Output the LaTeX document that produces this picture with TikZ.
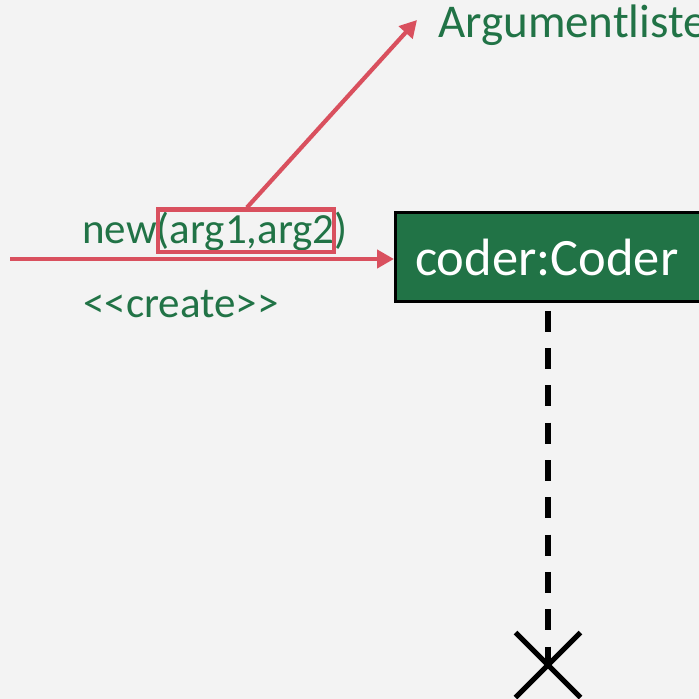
\documentclass[tikz,border=0pt]{standalone}
\usepackage{fontspec}
\setmainfont{Carlito}
\usetikzlibrary{arrows.meta,shapes.misc}
\definecolor{bgc}{HTML}{F3F3F3}
\definecolor{umlgreen}{HTML}{217346}
\definecolor{hlred}{HTML}{D9505E}
\tikzset{
  lbl/.style={anchor=base west, inner sep=0pt, text=umlgreen, font=\fontsize{43}{50}\selectfont},
  redline/.style={draw=hlred, line width=4.2pt},
  redtip/.style={-{Triangle[length=17pt,width=18pt]}},
  objbox/.style={rectangle, draw=black, line width=2.5pt, fill=umlgreen,
    minimum width=340pt, minimum height=89pt, anchor=north west, inner sep=0pt},
  lifeline/.style={draw=black, line width=5.3pt, dash pattern=on 21pt off 16.3pt, dash phase=29pt},
}
\begin{document}
\begin{tikzpicture}[x=1pt,y=-1pt]
  \fill[bgc] (0,0) rectangle (699,699);
  \useasboundingbox (0,0) rectangle (699,699);
  \clip (0,0) rectangle (699,699);

  % object box of the created instance
  \node[objbox] (obj) at (394,211) {};
  \node[anchor=base west, inner sep=0pt, text=white, font=\fontsize{52.5}{60}\selectfont] (objname) at (415,275) {coder:Coder};

  % message labels
  \node[lbl] (msg) at (82,243) {new(arg1,arg2)};
  \node[lbl] (stereo) at (83,317) {<{}<create>{}>};
  \node[lbl, font=\fontsize{47}{54}\selectfont] (note) at (438,37) {Argumentliste};

  % highlight round the argument list
  \node[redline, rectangle, minimum width=176pt, minimum height=42.5pt, inner sep=0pt] (args) at (246,230.8) {};

  % create message
  \coordinate (src) at (10,259);
  \draw[redline, redtip] (src) -- (src -| obj.west);

  % pointer to the label
  \coordinate (tip) at (417,20);
  \draw[redline, redtip] (args.north) ++(1,0) -- (tip);

  % lifeline and destruction mark
  \node[cross out, draw=black, line width=5pt, minimum size=60pt, inner sep=0pt] (kill) at (548,665) {};
  \draw[lifeline] (obj.south -| kill.center) -- (kill.center);
\end{tikzpicture}
\end{document}
